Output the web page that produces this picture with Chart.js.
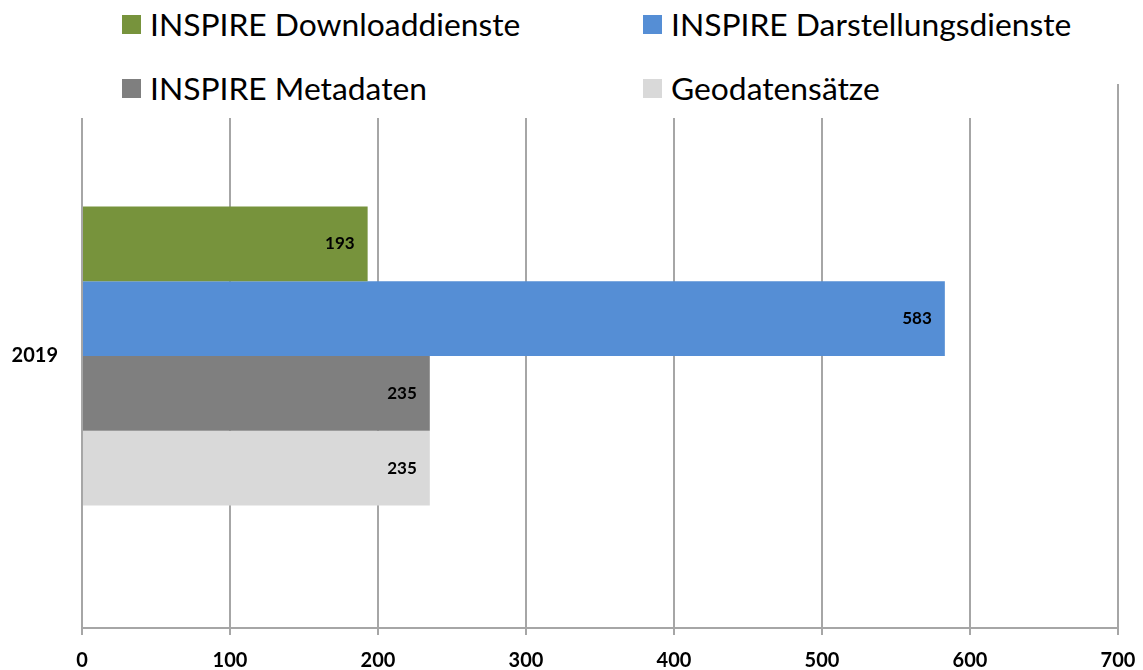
<!DOCTYPE html>
<html lang="de">
<head>
<meta charset="utf-8">
<title>INSPIRE 2019</title>
<script src="https://cdn.jsdelivr.net/npm/chart.js@4/dist/chart.umd.min.js"></script>
<style>
    html, body { margin: 0; padding: 0; background: #fff; }
    #wrap { position: relative; width: 1143px; height: 670px; }
    #legende {
        position: absolute; left: 0; top: 0; width: 1100px; height: 118px;
        background: #fff; z-index: 2; box-sizing: border-box;
        padding-left: 122px;
        display: grid; grid-template-columns: 521px auto;
        grid-template-rows: 48px 48px; row-gap: 16px;
        font-family: Lato, "Open Sans", sans-serif; font-size: 31.8px; color: #000;
    }
    .eintrag { display: flex; align-items: center; white-space: nowrap; }
    .kasten { width: 19px; height: 19px; margin-right: 9px; flex: none; }
    canvas { position: absolute; left: 0; top: 0; }
</style>
</head>
<body>
<div id="wrap">
    <div id="legende"></div>
    <canvas id="grafico" width="1143" height="670"></canvas>
</div>
<script>
// daten
const kategorien = ['2019'];
const serienNamen = ['INSPIRE Downloaddienste', 'INSPIRE Darstellungsdienste', 'INSPIRE Metadaten', 'Geodatensätze'];
const downloaddienste = [193];
const darstellungsdienste = [583];
const metadaten = [235];
const geodatensaetze = [235];
const achsenTicks = [0, 100, 200, 300, 400, 500, 600, 700];

const farben = ['#77933c', '#558ed5', '#7f7f7f', '#d9d9d9'];
const werte = [downloaddienste, darstellungsdienste, metadaten, geodatensaetze];

// legende als html, aus den labels von chart.js gebaut
const htmlLegende = {
    id: 'htmlLegende',
    afterUpdate(chart) {
        const box = document.getElementById('legende');
        box.innerHTML = '';
        const items = chart.options.plugins.legend.labels.generateLabels(chart);
        items.forEach(item => {
            const el = document.createElement('div');
            el.className = 'eintrag';
            const k = document.createElement('span');
            k.className = 'kasten';
            k.style.background = item.fillStyle;
            const t = document.createElement('span');
            t.textContent = item.text;
            el.appendChild(k);
            el.appendChild(t);
            box.appendChild(el);
        });
    }
};

// werte am balkenende
const werteBeschriftung = {
    id: 'werteBeschriftung',
    afterDatasetsDraw(chart) {
        const ctx = chart.ctx;
        ctx.save();
        ctx.font = 'bold 17px Lato, "Open Sans", sans-serif';
        ctx.fillStyle = '#000';
        ctx.textAlign = 'right';
        ctx.textBaseline = 'middle';
        chart.data.datasets.forEach((ds, i) => {
            chart.getDatasetMeta(i).data.forEach((bar, j) => {
                ctx.fillText(ds.data[j], bar.x - 13, bar.y);
            });
        });
        ctx.restore();
    }
};

const datasets = serienNamen.map((name, i) => ({
    label: name,
    data: werte[i],
    backgroundColor: farben[i],
    borderWidth: 0,
    categoryPercentage: 0.55,
    barPercentage: 1.0
}));

new Chart(document.getElementById('grafico'), {
    type: 'bar',
    data: { labels: kategorien, datasets: datasets },
    options: {
        indexAxis: 'y',
        responsive: false,
        animation: false,
        layout: { padding: { top: 84, right: 25, left: 0, bottom: 0 } },
        plugins: {
            legend: { display: false },
            tooltip: { enabled: false }
        },
        scales: {
            x: {
                min: 0,
                max: 700,
                afterBuildTicks: scale => { scale.ticks = achsenTicks.map(v => ({ value: v })); },
                afterFit: scale => {
                    scale.height = 42;
                    scale.paddingLeft = 0;
                    scale.paddingRight = 0;
                },
                grid: { color: '#a6a6a6', lineWidth: 2, tickLength: 7 },
                border: { color: '#a6a6a6', width: 2 },
                ticks: {
                    padding: 14,
                    color: '#000',
                    font: { family: 'Lato, "Open Sans", sans-serif', size: 20, weight: 'bold' }
                }
            },
            y: {
                afterFit: scale => { scale.width = 82; },
                grid: { display: false, drawTicks: false },
                border: { color: '#a6a6a6', width: 2 },
                ticks: {
                    padding: 24,
                    color: '#000',
                    font: { family: 'Lato, "Open Sans", sans-serif', size: 20, weight: 'bold' }
                }
            }
        }
    },
    plugins: [htmlLegende, werteBeschriftung]
});
</script>
</body>
</html>
